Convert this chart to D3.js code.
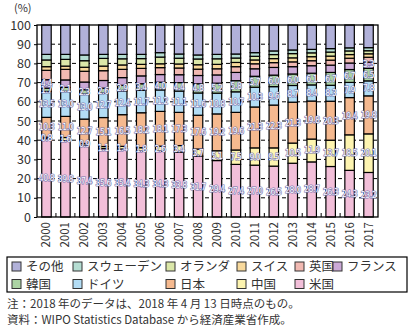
<!DOCTYPE html>
<html><head><meta charset="utf-8">
<script src="https://cdn.jsdelivr.net/npm/d3@7"></script>
<style>
body{margin:0;background:#fff;}
svg{display:block;font-family:"Noto Sans CJK JP","Noto Sans",sans-serif;}
</style></head>
<body><svg id="c" width="414" height="332"></svg>
<script>
const years = ["2000","2001","2002","2003","2004","2005","2006","2007","2008","2009","2010","2011","2012","2013","2014","2015","2016","2017"];
const us     = [40.8,39.8,37.4,35.6,35.4,34.3,34.3,33.8,31.7,29.4,27.4,27.0,26.5,28.0,28.7,26.3,24.3,23.2];
const china  = [0.8,1.6,0.9,1.1,1.4,1.8,2.6,3.4,3.7,5.1,7.5,9.0,9.5,10.5,11.9,13.7,18.5,20.1];
const japan  = [10.3,11.0,12.7,15.1,16.5,18.2,18.1,17.3,17.6,19.2,19.6,21.3,22.3,21.3,19.8,20.3,19.4,19.8];
const germany= [13.5,13.0,13.0,12.7,12.4,11.7,11.2,11.1,11.6,10.8,10.7,10.3,9.6,8.7,8.4,8.3,7.9,7.8];
const korea  = [1.7,2.1,2.3,2.6,2.9,3.4,4.0,4.4,4.8,5.2,5.8,5.7,6.0,6.0,6.1,6.7,6.7,6.5];
const france = [4.4,3.9,4.0,4.0,4.0,4.1,4.0,4.1,4.3,4.3,4.3,3.9,4.0,3.8,3.9,3.8,3.4,3.3];
const uk     = [4.9,5.5,5.6,5.1,4.3,3.9,3.6,3.5,3.3,3.2,3.0,2.6,2.5,2.5,2.6,2.6,2.5,2.5];
const swiss  = [1.9,1.7,2.1,2.4,2.3,2.1,2.0,2.1,2.3,2.3,2.2,2.0,2.1,2.1,2.1,2.1,1.9,1.8];
const nether = [3.5,3.5,3.4,4.0,3.2,3.0,3.5,3.0,3.0,2.9,2.3,1.9,2.1,2.2,2.0,2.1,1.9,1.6];
const sweden = [2.9,2.6,3.0,2.1,2.3,2.2,2.3,2.2,2.1,2.3,2.1,1.9,1.9,1.9,1.8,1.8,1.6,1.6];
const other  = [15.3,15.3,15.6,15.3,15.3,15.3,14.4,15.1,15.6,15.3,15.1,14.4,13.5,13.0,12.7,12.3,11.9,11.8];
const yTicks = [0,10,20,30,40,50,60,70,80,90,100];
const franceLabelYears = ["2000","2017"];

// stacking order bottom -> top
const series = [
  {key:"us", name:"米国", values:us, color:"#f2bfd9", label:true},
  {key:"china", name:"中国", values:china, color:"#fdf4b0", label:true},
  {key:"japan", name:"日本", values:japan, color:"#f5b98f", label:true},
  {key:"germany", name:"ドイツ", values:germany, color:"#b3ddf5", label:true},
  {key:"korea", name:"韓国", values:korea, color:"#acd4a4", label:true},
  {key:"france", name:"フランス", values:france, color:"#cba9d6", label:"some"},
  {key:"uk", name:"英国", values:uk, color:"#f1b9b2", label:false},
  {key:"swiss", name:"スイス", values:swiss, color:"#f8d99c", label:false},
  {key:"nether", name:"オランダ", values:nether, color:"#dbe7a9", label:false},
  {key:"sweden", name:"スウェーデン", values:sweden, color:"#b5ddd2", label:false},
  {key:"other", name:"その他", values:other, color:"#b1b1d9", label:false}
];
const legendOrder = ["other","sweden","nether","swiss","uk","france","korea","germany","japan","china","us"];

const rows = years.map((y,i)=>{const r={year:y}; series.forEach(s=>r[s.key]=s.values[i]); return r;});
const stacked = d3.stack().keys(series.map(s=>s.key))(rows);

const svg = d3.select("#c");
const L=37,R=378,T=25,B=217;
const x = d3.scaleBand().domain(years).range([L,R]).paddingInner(0.5).paddingOuter(0.25);
const y = d3.scaleLinear().domain([0,100]).range([B,T]);

// gridlines
svg.append("g").selectAll("line").data(yTicks.filter(t=>t>0&&t<100)).join("line")
  .attr("x1",L).attr("x2",R).attr("y1",d=>y(d)).attr("y2",d=>y(d))
  .attr("stroke","#000").attr("stroke-width",1).attr("stroke-dasharray","4,3");

// bars
const color = d3.scaleOrdinal().domain(series.map(s=>s.key)).range(series.map(s=>s.color));
svg.append("g").selectAll("g").data(stacked).join("g")
  .attr("fill",d=>color(d.key))
  .selectAll("rect").data(d=>d).join("rect")
  .attr("x",d=>x(d.data.year)).attr("width",x.bandwidth())
  .attr("y",d=>y(d[1])).attr("height",d=>y(d[0])-y(d[1]))
  .attr("stroke","#000").attr("stroke-width",1.2);

// frame
svg.append("rect").attr("x",L).attr("y",T).attr("width",R-L).attr("height",B-T)
  .attr("fill","none").attr("stroke","#000").attr("stroke-width",1.3);

// y axis
const yAxis = d3.axisLeft(y).tickValues(yTicks).tickSize(3).tickPadding(3);
const gy = svg.append("g").attr("transform",`translate(${L},0)`).call(yAxis);
gy.select(".domain").remove();
gy.selectAll("text").attr("font-size","12.5px").attr("fill","#333").attr("font-family","'Noto Sans CJK JP',sans-serif");
gy.selectAll("line").attr("stroke","#000");

// bottom ticks at band boundaries (inward)
const step = x.step();
const bounds = years.slice(1).map(yr=>x(yr)-(step-x.bandwidth())/2);
svg.append("g").selectAll("line").data(bounds).join("line")
  .attr("x1",d=>d).attr("x2",d=>d).attr("y1",B).attr("y2",B-4).attr("stroke","#000");

// x labels
svg.append("g").selectAll("text").data(years).join("text")
  .attr("transform",d=>`translate(${x(d)+x.bandwidth()/2+4},${B+5}) rotate(-90)`)
  .attr("text-anchor","end").attr("font-size","11.5px").attr("fill","#333")
  .text(d=>d);

// (%) label
svg.append("text").attr("x",14).attr("y",12).attr("font-size","11px").attr("fill","#333").text("(%)");

// data labels
const lab = svg.append("g").attr("font-family","'DejaVu Sans Condensed','DejaVu Sans',sans-serif")
  .attr("font-size","8.5px").attr("text-anchor","middle").attr("letter-spacing","-0.4");
stacked.forEach((layer,li)=>{
  const s = series[li];
  if(!s.label) return;
  layer.forEach(d=>{
    if(s.label==="some" && !franceLabelYears.includes(d.data.year)) return;
    const v = d[1]-d[0];
    const dy = s.label==="some" ? 2 : 3;
    lab.append("text")
      .attr("x",x(d.data.year)+x.bandwidth()/2)
      .attr("y",y((d[0]+d[1])/2)+dy)
      .attr("fill","#fafaff").attr("stroke","#7272aa").attr("stroke-width",1.1)
      .attr("paint-order","stroke")
      .text(v.toFixed(1));
  });
});

// legend
svg.append("rect").attr("x",7).attr("y",257).attr("width",400).attr("height",35)
  .attr("fill","none").attr("stroke","#000").attr("stroke-width",1.2);
const colX = [12,73,166,237,295,333];
const lg = svg.append("g");
legendOrder.forEach((k,i)=>{
  const s = series.find(z=>z.key===k);
  const row = Math.floor(i/6), col = i%6;
  const cx = colX[col], cy = row===0?266.5:284;
  lg.append("rect").attr("x",cx).attr("y",cy-4.5).attr("width",9).attr("height",9)
    .attr("fill",s.color).attr("stroke","#333").attr("stroke-width",1);
  lg.append("text").attr("x",cx+14).attr("y",cy+4.5).attr("font-size","12.5px").attr("fill","#333").text(s.name);
});

// notes
svg.append("text").attr("x",7).attr("y",307.5).attr("font-size","11.5px").attr("fill","#333")
  .text("注：2018 年のデータは、2018 年 4 月 13 日時点のもの。");
svg.append("text").attr("x",7).attr("y",323.5).attr("font-size","11.5px").attr("fill","#333")
  .text("資料：WIPO Statistics Database から経済産業省作成。");
</script></body></html>
